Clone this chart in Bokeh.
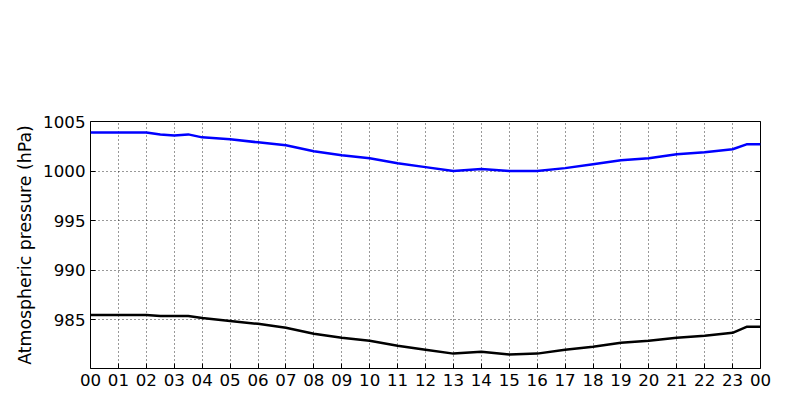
from bokeh.plotting import figure
from bokeh.models import Legend, LinearAxis, FixedTicker, Range1d, Label
from bokeh.embed import file_html
from bokeh.resources import INLINE

hours = [0, 1, 2, 2.5, 3, 3.5, 4, 5, 6, 7, 8, 9, 10, 11, 12, 13, 14, 15, 16, 17,
         18, 19, 20, 21, 22, 23, 23.5, 24]
mslp = [1003.9, 1003.9, 1003.9, 1003.7, 1003.6, 1003.7, 1003.4, 1003.2, 1002.9, 1002.6,
        1002.0, 1001.6, 1001.3, 1000.8, 1000.4, 1000.0, 1000.2, 1000.0, 1000.0, 1000.3,
        1000.7, 1001.1, 1001.3, 1001.7, 1001.9, 1002.2, 1002.7, 1002.7]
surface = [985.5, 985.5, 985.5, 985.4, 985.4, 985.4, 985.2, 984.9, 984.6, 984.2,
           983.6, 983.2, 982.9, 982.4, 982.0, 981.6, 981.8, 981.5, 981.6, 982.0,
           982.3, 982.7, 982.9, 983.2, 983.4, 983.7, 984.3, 984.3]
tick_labels = {h: "%02d" % (h % 24) for h in range(25)}

p = figure(width=784, height=404, output_backend="svg", toolbar_location=None,
           x_range=Range1d(0, 24), y_range=Range1d(980.1, 1005),
           min_border_left=90, min_border_right=24, min_border_bottom=36, min_border_top=121)

r1 = p.line(hours, surface, line_color="black", line_width=2.5)
r2 = p.line(hours, mslp, line_color="blue", line_width=2.5)

title = Label(x=335, y=337, x_units="screen", y_units="screen", text_align="center",
              text="Latest time: 2022-09-29 00:00:00 UTC", text_font="DejaVu Sans",
              text_font_size="17.5pt", text_color="black")
p.add_layout(title)

legend = Legend(items=[("Surface pressure (984.28 hPa)", [r1]),
                       ("Mean sea level pressure (1002.692 hPa)", [r2])],
                location=(105, 260), orientation="vertical")
legend.label_text_font = "DejaVu Sans"
legend.label_text_font_size = "14.5pt"
legend.label_text_color = "black"
legend.label_height = 26
legend.glyph_height = 26
legend.border_line_color = "black"
legend.border_line_width = 1
legend.glyph_width = 45
legend.spacing = 2
legend.padding = 5
legend.margin = 0
p.add_layout(legend)

p.outline_line_color = "black"
p.outline_line_width = 1
p.grid.grid_line_color = "black"
p.grid.grid_line_dash = "1 3"
p.grid.grid_line_alpha = 0.8

p.xaxis.ticker = FixedTicker(ticks=list(range(25)))
p.xaxis.major_label_overrides = tick_labels
p.yaxis.ticker = FixedTicker(ticks=[985, 990, 995, 1000, 1005])
for ax in p.axis:
    ax.major_tick_in = 5
    ax.major_tick_out = 0
    ax.minor_tick_line_color = None
    ax.axis_line_color = None
    ax.major_label_text_font = "DejaVu Sans"
    ax.major_label_text_font_size = "12.5pt"
    ax.major_label_text_color = "black"
p.yaxis.axis_label = "Atmospheric pressure (hPa)"
p.yaxis.axis_label_text_font = "DejaVu Sans"
p.yaxis.axis_label_text_font_size = "13pt"
p.yaxis.axis_label_text_font_style = "normal"
p.yaxis.axis_label_text_color = "black"

right = LinearAxis(ticker=FixedTicker(ticks=[985, 990, 995, 1000, 1005]),
                   major_label_text_font_size="0pt", major_tick_in=5, major_tick_out=0,
                   minor_tick_line_color=None, axis_line_color=None)
p.add_layout(right, "right")

open("out.html", "w").write(file_html(p, INLINE))
